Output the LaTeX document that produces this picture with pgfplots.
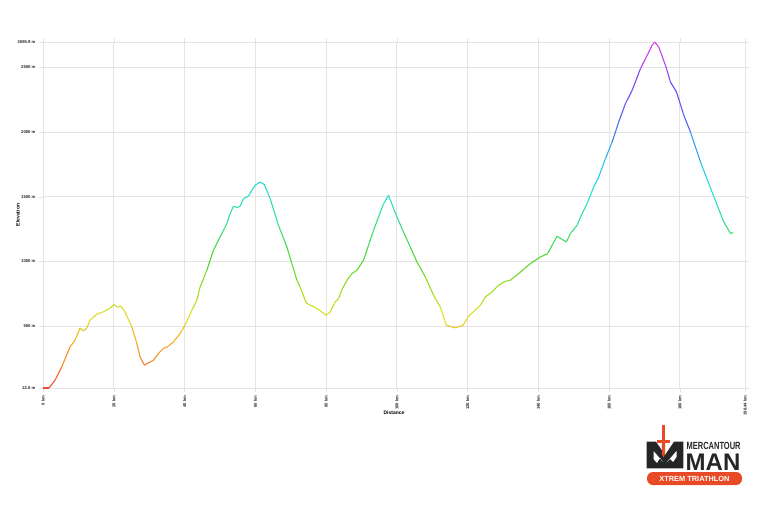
\documentclass[border=0pt]{standalone}
\usepackage{pgfplots}
\pgfplotsset{compat=1.18}
\usepackage{fontspec}
\setmainfont{Liberation Sans}
\definecolor{gridc}{RGB}{228,228,228}
\definecolor{mcorange}{RGB}{232,74,38}
\definecolor{mcdark}{RGB}{38,38,40}
\pgfplotsset{colormap={elev}{rgb255(0cm)=(235,70,55); rgb255(10cm)=(245,150,40); rgb255(21cm)=(225,225,35); rgb255(37cm)=(80,215,45); rgb255(55cm)=(40,225,200); rgb255(65cm)=(40,200,240); rgb255(75cm)=(70,110,245); rgb255(87cm)=(110,70,245); rgb255(100cm)=(230,60,235)}}
\begin{document}
\begin{tikzpicture}[x=1pt,y=1pt]
\path[use as bounding box] (0,0) rectangle (768,507);
\begin{axis}[
  at={(43pt,119pt)}, anchor=south west,
  scale only axis, width=702pt, height=346pt,
  xmin=0, xmax=198.44, ymin=22.8, ymax=2695.9,
  axis line style={gridc},
  grid=major, major grid style={gridc, line width=0.6pt},
  tick style={gridc},
  major tick length=4pt,
  tick align=outside,
  xtick={0,20,40,60,80,100,120,140,160,180,198.44},
  xticklabels={0 km,20 km,40 km,60 km,80 km,100 km,120 km,140 km,160 km,180 km,198.44 km},
  ytick={22.8,500,1000,1500,2000,2500,2695.9},
  yticklabels={22.8 m,500 m,1000 m,1500 m,2000 m,2500 m,2695.9 m},
  x tick label style={font=\fontsize{4.2}{5}\selectfont\bfseries, rotate=90, anchor=east, text=black!85},
  y tick label style={font=\fontsize{4.2}{5}\selectfont\bfseries, text=black!85},
  xlabel={Distance}, ylabel={Elevation},
  xlabel style={font=\fontsize{5}{6}\selectfont\bfseries, at={(axis description cs:0.5,-0.072)}, anchor=center},
  ylabel style={font=\fontsize{5}{6}\selectfont\bfseries, at={(axis description cs:-0.036,0.5)}, anchor=center, rotate=0},
  colormap name=elev,
  point meta min=22.8, point meta max=2695.9,
  clip=false,
]
\addplot[mesh, point meta=y, line width=1.1pt] coordinates {
(0,22.8) (1.7,22.8) (3.4,83) (5.29,186) (7.64,340) (9.05,392) (10.47,485) (11.40,464) (12.36,485)
(13.30,546) (15.19,593) (16.97,610) (18.95,639) (20.17,668) (21.02,647) (21.98,657) (23.20,610)
(25.09,495) (26.51,369) (27.44,263) (28.66,199) (29.79,217) (31.20,237) (32.62,289) (34.03,328)
(35.45,346) (36.86,379) (38.76,444) (40.17,508) (42.07,624) (43.48,701) (44.41,803) (46.31,932)
(48.18,1087) (50.07,1190) (51.97,1293) (52.90,1370) (53.83,1427) (54.80,1417) (55.73,1427)
(56.66,1486) (58.08,1504) (59.04,1550) (59.97,1589) (61.39,1614) (62.52,1596) (64.21,1486)
(66.56,1280) (68.94,1112) (70.35,984) (71.77,855) (72.70,803) (74.40,680) (77.43,637) (80.06,585)
(81.19,610) (82.60,688) (83.54,714) (84.50,783) (85.91,855) (87.33,907) (88.74,932) (89.67,971)
(90.61,1010) (92.02,1125) (93.44,1241) (94.85,1344) (96.27,1447) (97.68,1512) (99.10,1409)
(101.47,1254) (103.82,1112) (105.71,997) (108.06,881) (110.41,739) (112.31,649) (114.00,508)
(116.55,487) (118.73,508) (120.31,577) (123.62,662) (125.04,726) (126.93,765) (128.80,817)
(130.69,847) (132.11,855) (134.46,907) (137.77,984) (140.59,1035) (142.66,1061) (143.90,1125)
(145.31,1195) (147.95,1151) (149.08,1216) (150.97,1280) (152.39,1370) (153.80,1447) (155.67,1576)
(157.09,1653) (158.98,1795) (160.88,1923) (162.74,2078) (164.64,2220) (166.53,2322) (168.88,2490)
(170.30,2567) (172.19,2670) (172.9,2695.9) (174.07,2657) (175.95,2516) (177.37,2387) (179.07,2310)
(181.13,2130) (183.03,2000) (185.86,1769) (188.20,1602) (190.58,1435) (192.45,1306) (194.34,1216)
(195.1,1224)
};
\end{axis}
% logo
\begin{scope}
% M shape with mountains
\fill[mcdark] (646.7,65.3) -- (656,65.3) -- (665,52) -- (674,65.3) -- (683.3,65.3) -- (683.3,38.7) -- (646.7,38.7) -- cycle;
\fill[white] (653.5,56) -- (653.5,48) -- (657,44) -- (660,49) -- (663,45) -- cycle;
\fill[white] (676.5,56) -- (676.5,50) -- (673,45) -- (670,48) -- (667,45) -- cycle;
% sword
\fill[mcorange] (661.8,82) rectangle (665.2,72);
\fill[mcorange] (661,73.5) circle (0pt);
\fill[mcorange] (657,67.5) rectangle (670,64.5);
\fill[mcorange] (662,72) rectangle (665,67.5);
\fill[mcorange] (661.8,64.5) -- (665.2,64.5) -- (665.2,53) -- (663.5,49.5) -- (661.8,53) -- cycle;
\node[anchor=base west, inner sep=0, text=mcdark, xscale=0.72] at (686.5,57.8) {\fontsize{10.4}{10.4}\selectfont\bfseries MERCANTOUR};
\node[anchor=base west, inner sep=0, text=mcdark] at (685.5,37) {\fontsize{24}{24}\selectfont\bfseries MAN};
\fill[mcorange, rounded corners=6pt] (647,22) rectangle (742,35);
\node[inner sep=0, text=white] at (694.5,28.5) {\fontsize{7.4}{8}\selectfont\bfseries XTREM TRIATHLON};
\end{scope}
\end{tikzpicture}
\end{document}
